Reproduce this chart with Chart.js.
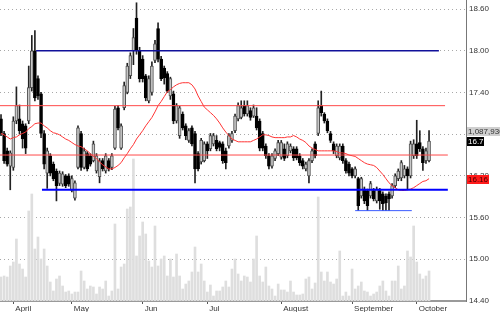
<!DOCTYPE html>
<html>
<head>
<meta charset="utf-8">
<script src="https://cdn.jsdelivr.net/npm/chart.js@4.4.0/dist/chart.umd.min.js"></script>
<style>
  html, body { margin: 0; padding: 0; background: #fff; }
</style>
</head>
<body>
<canvas id="chart" width="500" height="312"></canvas>
<script>
// daily bars, index 0 = last days of March
const opens = [
  17.02,16.81,16.56,16.34,16.32,16.99,17.02,16.95,16.92,16.99,
  17.47,18.00,17.60,17.38,16.81,16.24,16.49,16.37,16.27,16.09,
  16.08,16.20,16.20,15.99,15.88,16.32,16.81,16.32,16.52,16.49,
  16.42,16.27,16.19,16.42,16.27,16.42,16.32,16.60,17.18,16.60,
  17.18,17.40,17.64,18.00,18.47,18.00,17.88,17.64,17.28,17.40,
  17.86,18.32,17.88,17.75,17.67,17.35,17.38,16.99,16.78,17.09,
  16.92,16.71,16.89,16.81,16.52,16.40,16.42,16.66,16.59,16.66,
  16.71,16.68,16.66,16.56,16.63,16.71,16.85,17.02,17.04,17.21,
  17.09,17.14,17.06,17.06,16.99,16.81,16.63,16.49,16.34,16.45,
  16.52,16.47,16.59,16.49,16.56,16.59,16.59,16.49,16.42,16.30,
  16.20,16.42,16.66,16.81,17.21,17.09,16.99,16.81,16.66,16.49,
  16.46,16.63,16.42,16.37,16.30,16.20,16.16,15.91,16.01,15.99,
  15.91,15.99,15.84,15.99,15.94,15.91,15.94,15.91,16.06,16.16,
  16.17,16.20,16.30,16.20,16.49,16.66,16.68,16.59,16.42,16.42
];
const highs = [
  17.08,16.84,16.60,16.56,17.05,17.48,17.22,16.99,16.95,17.78,
  18.22,18.29,17.64,17.40,16.85,16.60,16.52,16.40,16.30,16.27,
  16.26,16.22,16.23,16.20,16.13,16.92,16.84,16.60,16.55,16.52,
  16.70,16.52,16.45,16.45,16.52,16.45,16.52,17.20,17.21,16.95,
  17.55,17.82,17.97,18.32,18.69,18.05,17.93,17.66,17.64,17.84,
  18.15,18.40,17.92,17.78,17.70,17.62,17.42,17.24,17.20,17.12,
  16.95,16.88,16.92,16.84,16.55,16.74,16.69,16.69,16.81,16.81,
  16.78,16.70,16.69,16.60,16.81,16.84,17.09,17.25,17.28,17.28,
  17.28,17.18,17.22,17.18,17.02,16.84,16.66,16.52,16.52,16.59,
  16.71,16.71,16.66,16.69,16.66,16.62,16.62,16.52,16.45,16.40,
  16.45,16.59,16.69,17.28,17.42,17.11,17.02,16.84,16.69,16.66,
  16.66,16.66,16.45,16.40,16.32,16.33,16.18,16.18,16.04,16.01,
  16.12,16.02,16.04,16.02,15.97,15.94,15.97,16.09,16.23,16.30,
  16.42,16.35,16.33,16.70,16.72,17.00,16.85,16.62,16.60,16.85
];
const lows = [
  16.78,16.38,16.34,16.00,16.28,16.95,16.80,16.60,16.52,16.95,
  17.42,17.28,17.30,16.75,16.30,16.02,16.20,16.13,15.84,16.06,
  16.05,16.03,16.05,15.97,15.85,16.30,16.28,16.30,16.27,16.34,
  16.40,16.24,16.10,16.27,16.24,16.27,16.29,16.58,16.86,16.58,
  17.15,17.38,17.60,17.80,17.95,17.55,17.55,17.28,17.25,17.36,
  17.83,17.84,17.57,17.52,17.40,17.30,16.95,16.96,16.74,16.86,
  16.72,16.68,16.63,16.10,16.27,16.37,16.40,16.45,16.56,16.63,
  16.56,16.56,16.38,16.30,16.60,16.68,16.82,16.99,17.02,17.06,
  17.06,17.00,17.04,16.86,16.56,16.56,16.45,16.30,16.31,16.42,
  16.49,16.44,16.42,16.46,16.53,16.42,16.43,16.35,16.30,16.27,
  16.10,16.39,16.46,16.78,17.06,16.96,16.82,16.68,16.52,16.46,
  16.43,16.38,16.24,16.20,16.17,16.17,15.70,15.88,15.80,15.70,
  15.88,15.84,15.81,15.72,15.70,15.70,15.70,15.88,16.03,16.13,
  16.13,16.17,16.00,16.17,16.45,16.45,16.55,16.28,16.38,16.40
];
const closes = [
  16.81,16.42,16.37,16.53,16.99,17.21,16.85,16.73,16.60,17.47,
  18.00,17.32,17.35,16.81,16.37,16.56,16.24,16.16,16.06,16.24,
  16.23,16.06,16.08,16.16,16.10,16.89,16.32,16.56,16.30,16.37,
  16.66,16.49,16.42,16.30,16.49,16.30,16.49,17.16,16.89,16.92,
  17.50,17.78,17.93,18.19,18.00,17.60,17.60,17.32,17.60,17.78,
  18.10,17.88,17.60,17.61,17.42,17.60,16.99,17.21,17.18,16.89,
  16.78,16.85,16.66,16.30,16.30,16.71,16.66,16.56,16.78,16.78,
  16.59,16.61,16.42,16.39,16.78,16.81,17.06,17.21,17.18,17.09,
  17.21,17.04,17.18,16.89,16.60,16.60,16.49,16.34,16.49,16.56,
  16.68,16.68,16.45,16.66,16.63,16.46,16.46,16.39,16.34,16.37,
  16.42,16.56,16.49,17.18,17.11,16.99,16.85,16.71,16.56,16.63,
  16.63,16.42,16.27,16.24,16.20,16.30,15.77,16.16,15.84,15.77,
  16.09,15.87,16.01,15.84,15.80,15.81,15.87,16.06,16.20,16.27,
  16.39,16.30,16.20,16.66,16.66,16.49,16.59,16.39,16.56,16.7
];
const volumes = [
  870000,907000,870000,1269000,1414000,2248000,1342000,1160000,870000,3264000,
  3880000,1886000,2321000,1523000,1886000,1269000,689000,363000,798000,907000,
  544000,326000,363000,254000,326000,326000,1088000,725000,435000,544000,
  508000,254000,508000,435000,725000,181000,363000,2792000,435000,1233000,
  1342000,3336000,3409000,5149000,1632000,2357000,2865000,2430000,1451000,1233000,
  2720000,1269000,1523000,1632000,907000,1523000,870000,1704000,907000,435000,
  616000,725000,1052000,1958000,1052000,1342000,725000,326000,580000,181000,
  363000,363000,508000,725000,508000,1160000,1523000,979000,725000,907000,
  870000,689000,1523000,2357000,907000,689000,1233000,544000,435000,181000,
  616000,399000,399000,326000,725000,326000,218000,218000,254000,798000,
  870000,435000,653000,3771000,1052000,725000,1052000,689000,616000,798000,
  1813000,181000,326000,181000,1160000,435000,544000,689000,363000,326000,
  181000,254000,326000,544000,725000,363000,181000,725000,725000,1269000,
  435000,544000,1813000,1596000,2720000,1414000,979000,798000,907000,1087930
];
// moving average as shown (red)
const maValues = [
  16.81,16.79,16.76,16.73,16.75,16.76,16.79,16.81,16.83,16.88,
  16.91,16.95,16.96,16.96,16.92,16.89,16.85,16.82,16.81,16.79,
  16.76,16.73,16.71,16.68,16.65,16.63,16.62,16.59,16.56,16.52,
  16.48,16.45,16.40,16.36,16.33,16.30,16.30,16.32,16.35,16.39,
  16.46,16.52,16.59,16.65,16.73,16.79,16.85,16.92,16.98,17.04,
  17.12,17.21,17.27,17.34,17.41,17.44,17.48,17.51,17.53,17.54,
  17.54,17.54,17.51,17.45,17.35,17.27,17.19,17.15,17.11,17.07,
  17.02,16.96,16.89,16.83,16.78,16.73,16.71,16.69,16.69,16.69,
  16.69,16.69,16.71,16.73,16.76,16.79,16.79,16.78,16.76,16.75,
  16.75,16.75,16.75,16.76,16.76,16.78,16.76,16.73,16.71,16.68,
  16.63,16.60,16.58,16.56,16.56,16.56,16.56,16.56,16.56,16.55,
  16.53,16.53,16.52,16.50,16.49,16.48,16.45,16.42,16.39,16.37,
  16.36,16.35,16.32,16.27,16.22,16.16,16.10,16.06,16.03,16.00,
  15.99,15.99,16.00,16.01,16.03,16.06,16.09,16.12,16.13,16.16
];

const monthNames = ['April', 'May', 'Jun', 'Jul', 'August', 'September', 'October'];
const monthStarts = [4, 23, 46, 67, 91, 114, 135];
const priceTicks = [14.40, 15.00, 15.60, 16.20, 16.80, 17.40, 18.00, 18.60];

// drawn support / resistance levels
const levelPrices = [18.00, 17.21, 16.50, 16.00, 15.70];
const levelFrom = [11.4, -0.4, -0.4, 13.3, 115];
const levelTo = [142.2, 144.2, 145.1, 145.1, 133.4];
const levelColors = ['#10109a', '#ff4a4a', '#ff4a4a', '#0000ff', '#3c5cff'];
const levelWidths = [1.5, 1, 1, 2, 1];

const FONT = '"Liberation Sans", Arial, sans-serif';
const idx = closes.map((_, i) => i);

const wickData = idx.map(i => ({ x: i, y: [lows[i], highs[i]] }));
const bodyData = idx.map(i => ({ x: i, y: [opens[i], closes[i]] }));
const bodyColors = idx.map(i => closes[i] >= opens[i] ? '#c8c8c8' : '#000000');
const bodyBorders = idx.map(i => closes[i] >= opens[i] ? '#505050' : '#000000');

const levelSets = levelPrices.map((p, k) => ({
  type: 'line',
  data: [{ x: levelFrom[k], y: p }, { x: levelTo[k], y: p }],
  borderColor: levelColors[k],
  borderWidth: levelWidths[k],
  pointRadius: 0,
  order: 0,
}));

// price tags on the right side of the axis
const valueTags = {
  id: 'valueTags',
  afterDraw(chart) {
    const { ctx, chartArea, scales } = chart;
    const x0 = chartArea.right + 1;
    const yClose = scales.y.getPixelForValue(closes[closes.length - 1]);
    const yMa = scales.y.getPixelForValue(maValues[maValues.length - 1]);
    const tag = (bg, fg, text, yc, w) => {
      ctx.fillStyle = bg;
      ctx.fillRect(x0, Math.round(yc) - 4, w, 9);
      ctx.fillStyle = fg;
      ctx.fillText(text, x0 + 1, Math.round(yc) + 1);
    };
    ctx.save();
    ctx.font = '8px ' + FONT;
    ctx.textBaseline = 'middle';
    tag('#cfcfcf', '#333', volumes[volumes.length - 1].toLocaleString('en-US'), yClose - 10, 40);
    tag('#000', '#fff', String(closes[closes.length - 1]), yClose, 17);
    tag('#ff1a1a', '#400', maValues[maValues.length - 1].toFixed(2), yMa, 22);
    ctx.restore();
  }
};

new Chart(document.getElementById('chart'), {
  data: {
    datasets: [
      {
        type: 'bar', yAxisID: 'yv', data: idx.map(i => ({ x: i, y: volumes[i] })),
        backgroundColor: '#dedede', barThickness: 2, grouped: false, order: 5,
      },
      {
        type: 'bar', data: wickData, backgroundColor: '#222', barThickness: 1,
        grouped: false, order: 4,
      },
      {
        type: 'bar', data: bodyData, backgroundColor: bodyColors, borderColor: bodyBorders,
        borderWidth: 1, borderSkipped: false, barThickness: 3, grouped: false, order: 3,
      },
      {
        type: 'line', data: idx.map(i => ({ x: i, y: maValues[i] })),
        borderColor: '#ff3434', borderWidth: 1, pointRadius: 0, order: 1,
      },
      ...levelSets,
    ],
  },
  options: {
    responsive: false,
    animation: false,
    layout: { padding: 0 },
    plugins: { legend: { display: false }, tooltip: { enabled: false } },
    scales: {
      x: {
        type: 'linear', min: -0.33, max: 151, offset: false,
        afterBuildTicks: s => { s.ticks = monthStarts.map(v => ({ value: v })); },
        afterFit: s => { s.height = 11; s.paddingLeft = 0; s.paddingRight = 0; },
        ticks: {
          callback: v => monthNames[monthStarts.indexOf(v)],
          align: 'start', labelOffset: 2, padding: 0, maxRotation: 0, autoSkip: false,
          font: { family: FONT, size: 8 }, color: '#333',
        },
        grid: { drawOnChartArea: false, offset: false, tickLength: 3, color: '#555' },
        border: { color: '#9a9a9a', width: 2 },
      },
      y: {
        position: 'right', min: 14.40, max: 18.73,
        afterBuildTicks: s => { s.ticks = priceTicks.map(v => ({ value: v })); },
        afterFit: s => { s.width = 34; s.paddingTop = 0; s.paddingBottom = 0; },
        ticks: {
          callback: v => v.toFixed(2), padding: 3,
          font: { family: FONT, size: 8 }, color: '#333',
        },
        grid: { color: '#a8a8a8', drawTicks: false },
        border: { color: '#777', width: 1, dash: [1, 3] },
      },
      yv: { display: false, min: 0, max: 10915000 },
    },
  },
  plugins: [valueTags],
});
</script>
</body>
</html>
